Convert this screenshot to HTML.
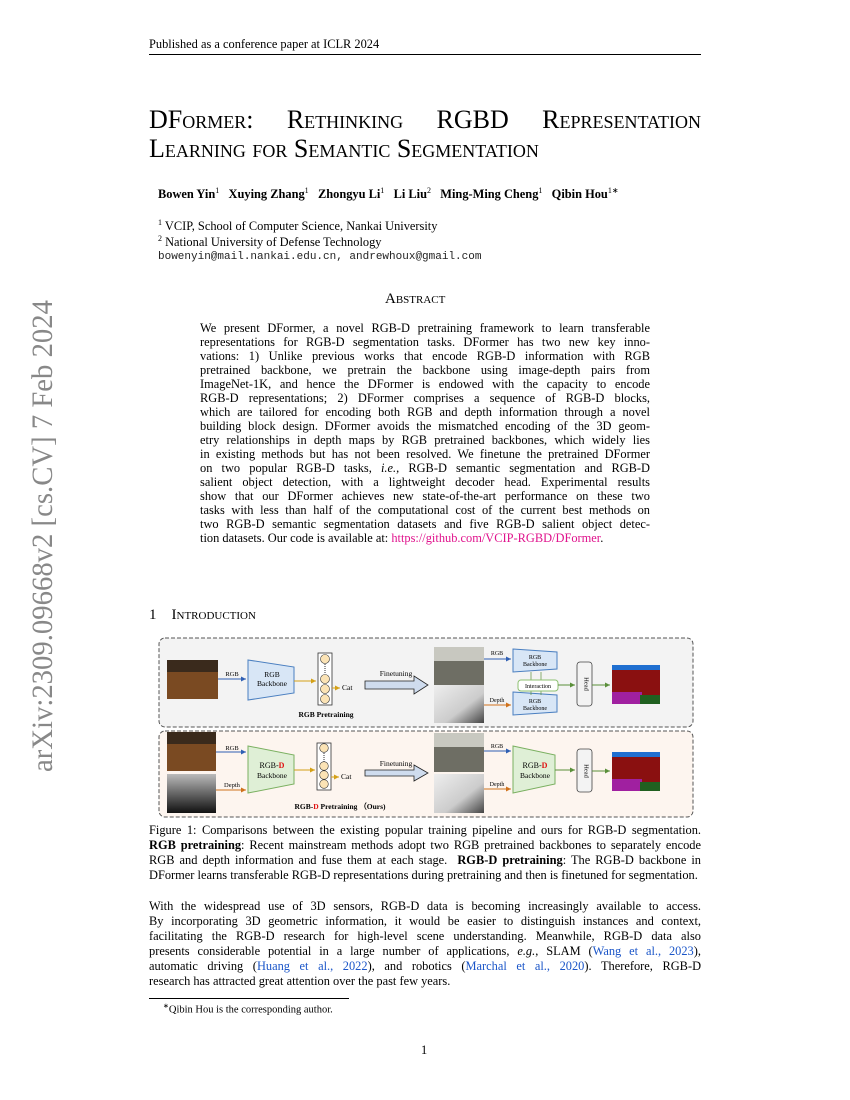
<!DOCTYPE html>
<html><head><meta charset="utf-8"><style>
body{margin:0;width:850px;height:1100px;position:relative;background:#fff;font-family:"Liberation Serif",serif;color:#000;overflow:hidden}
.a{position:absolute;white-space:nowrap}
.t{font-size:12.4px}
.j{position:absolute;left:200px;width:450px;font-size:12.4px;text-align:justify;text-align-last:justify;white-space:nowrap;line-height:14px}
.b{position:absolute;left:149px;width:552px;font-size:12.4px;text-align:justify;text-align-last:justify;white-space:nowrap}
.sc{font-variant:small-caps}
a{color:#e0138d;text-decoration:none}
.c{color:#1a55c8}
</style></head><body>
<div class="a t" style="left:149px;top:37px">Published as a conference paper at ICLR 2024</div>
<div class="a" style="left:149px;top:54px;width:552px;border-top:1px solid #000"></div>
<div class="a sc" style="left:149px;top:105px;font-size:26px;width:552px;text-align:justify;text-align-last:justify">DFormer: &nbsp;Rethinking &nbsp;RGBD &nbsp;Representation</div>
<div class="a sc" style="left:149px;top:134px;font-size:26px">Learning for Semantic Segmentation</div>
<div class="a" style="left:158px;top:186px;font-size:12.4px;font-weight:bold">Bowen Yin<sup style="font-weight:normal;font-size:8px">1</sup>&nbsp;&nbsp; Xuying Zhang<sup style="font-weight:normal;font-size:8px">1</sup>&nbsp;&nbsp; Zhongyu Li<sup style="font-weight:normal;font-size:8px">1</sup>&nbsp;&nbsp; Li Liu<sup style="font-weight:normal;font-size:8px">2</sup>&nbsp;&nbsp; Ming-Ming Cheng<sup style="font-weight:normal;font-size:8px">1</sup>&nbsp;&nbsp; Qibin Hou<sup style="font-weight:normal;font-size:8px">1∗</sup></div>
<div class="a t" style="left:158px;top:218px"><sup style="font-size:8px">1</sup> VCIP, School of Computer Science, Nankai University</div>
<div class="a t" style="left:158px;top:234px"><sup style="font-size:8px">2</sup> National University of Defense Technology</div>
<div class="a" style="left:158px;top:251px;font-family:'Liberation Mono',monospace;font-size:11px;color:#222">bowenyin@mail.nankai.edu.cn, andrewhoux@gmail.com</div>
<div class="a sc" style="left:385px;top:291px;font-size:15px">Abstract</div>
<div class="j" style="top:321px">We present DFormer, a novel RGB-D pretraining framework to learn transferable</div>
<div class="j" style="top:335px">representations for RGB-D segmentation tasks. DFormer has two new key inno-</div>
<div class="j" style="top:349px">vations: 1) Unlike previous works that encode RGB-D information with RGB</div>
<div class="j" style="top:363px">pretrained backbone, we pretrain the backbone using image-depth pairs from</div>
<div class="j" style="top:377px">ImageNet-1K, and hence the DFormer is endowed with the capacity to encode</div>
<div class="j" style="top:391px">RGB-D representations; 2) DFormer comprises a sequence of RGB-D blocks,</div>
<div class="j" style="top:405px">which are tailored for encoding both RGB and depth information through a novel</div>
<div class="j" style="top:419px">building block design. DFormer avoids the mismatched encoding of the 3D geom-</div>
<div class="j" style="top:433px">etry relationships in depth maps by RGB pretrained backbones, which widely lies</div>
<div class="j" style="top:447px">in existing methods but has not been resolved. We finetune the pretrained DFormer</div>
<div class="j" style="top:461px">on two popular RGB-D tasks, <i>i.e.,</i> RGB-D semantic segmentation and RGB-D</div>
<div class="j" style="top:475px">salient object detection, with a lightweight decoder head. Experimental results</div>
<div class="j" style="top:489px">show that our DFormer achieves new state-of-the-art performance on these two</div>
<div class="j" style="top:503px">tasks with less than half of the computational cost of the current best methods on</div>
<div class="j" style="top:517px">two RGB-D semantic segmentation datasets and five RGB-D salient object detec-</div>
<div class="j" style="top:531px;text-align-last:left">tion datasets. Our code is available at: <a>https://github.com/VCIP-RGBD/DFormer</a>.</div>
<div class="a" style="left:149px;top:607px;font-size:15px">1&nbsp;&nbsp;&nbsp; <span class="sc">Introduction</span></div>

<svg class="a" style="left:0;top:0" width="850" height="1100" font-family="Liberation Serif,serif">
<defs>
<marker id="mb" markerWidth="6" markerHeight="6" refX="5" refY="3" orient="auto"><path d="M0,0.5L5,3L0,5.5z" fill="#2f5fb3"/></marker>
<marker id="mo" markerWidth="6" markerHeight="6" refX="5" refY="3" orient="auto"><path d="M0,0.5L5,3L0,5.5z" fill="#d0721c"/></marker>
<marker id="my" markerWidth="6" markerHeight="6" refX="5" refY="3" orient="auto"><path d="M0,0.5L5,3L0,5.5z" fill="#d4a017"/></marker>
<marker id="mg" markerWidth="6" markerHeight="6" refX="5" refY="3" orient="auto"><path d="M0,0.5L5,3L0,5.5z" fill="#5a8f3a"/></marker>
<linearGradient id="dg" x1="0" y1="0" x2="0" y2="1"><stop offset="0" stop-color="#bbb"/><stop offset="1" stop-color="#111"/></linearGradient>
<linearGradient id="gw" x1="0" y1="0" x2="1" y2="1"><stop offset="0" stop-color="#eee"/><stop offset="0.6" stop-color="#ccc"/><stop offset="1" stop-color="#444"/></linearGradient>
</defs>
<rect x="159" y="638" width="534" height="89" rx="6" fill="#f3f3f3" stroke="#555" stroke-dasharray="4,2"/>
<rect x="159" y="731" width="534" height="86" rx="6" fill="#fdf5ef" stroke="#555" stroke-dasharray="4,2"/>
<rect x="167" y="660" width="51" height="39" fill="#7a4a22"/><rect x="167" y="660" width="51" height="12" fill="#3a2a1c"/>
<line x1="218" y1="679" x2="246" y2="679" stroke="#2f5fb3" marker-end="url(#mb)"/>
<text x="232" y="676" font-size="6.5" text-anchor="middle">RGB</text>
<path d="M248,660 L294,667 L294,693 L248,700z" fill="#d8e6f6" stroke="#4a7fc0"/>
<text x="272" y="677" font-size="7.5" text-anchor="middle">RGB</text><text x="272" y="686" font-size="7.5" text-anchor="middle">Backbone</text>
<line x1="294" y1="681" x2="316" y2="681" stroke="#d4a017" marker-end="url(#my)"/>
<rect x="318" y="653" width="14" height="52" fill="#fff" stroke="#333" stroke-width="0.8"/>
<circle cx="325" cy="659" r="4.5" fill="#fbe3b5" stroke="#333" stroke-width="0.6"/><line x1="325" y1="664" x2="325" y2="674" stroke="#333" stroke-dasharray="1,1"/>
<circle cx="325" cy="679" r="4.5" fill="#fbe3b5" stroke="#333" stroke-width="0.6"/><circle cx="325" cy="689" r="4.5" fill="#fbe3b5" stroke="#333" stroke-width="0.6"/><circle cx="325" cy="699" r="4.5" fill="#fbe3b5" stroke="#333" stroke-width="0.6"/>
<line x1="332" y1="688" x2="340" y2="688" stroke="#d4a017" marker-end="url(#my)"/>
<text x="342" y="690" font-size="7.5">Cat</text>
<text x="326" y="717" font-size="7.5" font-weight="bold" text-anchor="middle">RGB Pretraining</text>
<text x="396" y="676" font-size="7.5" text-anchor="middle">Finetuning</text>
<path d="M365,681 L414,681 L414,676 L428,685 L414,694 L414,689 L365,689z" fill="#cfdcee" stroke="#222" stroke-width="0.8"/>
<rect x="434" y="647" width="50" height="38" fill="#6e6e64"/><rect x="434" y="647" width="50" height="14" fill="#c8c8c0"/>
<rect x="434" y="685" width="50" height="38" fill="url(#gw)"/>
<line x1="484" y1="659" x2="511" y2="659" stroke="#2f5fb3" marker-end="url(#mb)"/><text x="497" y="655" font-size="6" text-anchor="middle">RGB</text>
<line x1="484" y1="705" x2="511" y2="705" stroke="#d0721c" marker-end="url(#mo)"/><text x="497" y="702" font-size="6" text-anchor="middle">Depth</text>
<path d="M513,649 L557,652 L557,669 L513,672z" fill="#d8e6f6" stroke="#4a7fc0"/>
<text x="535" y="659" font-size="6" text-anchor="middle">RGB</text><text x="535" y="666" font-size="6" text-anchor="middle">Backbone</text>
<path d="M513,692 L557,695 L557,712 L513,715z" fill="#d8e6f6" stroke="#4a7fc0"/>
<text x="535" y="703" font-size="6" text-anchor="middle">RGB</text><text x="535" y="710" font-size="6" text-anchor="middle">Backbone</text>
<line x1="531" y1="680" x2="531" y2="672" stroke="#5a8f3a" stroke-width="0.7"/><line x1="541" y1="680" x2="541" y2="672" stroke="#5a8f3a" stroke-width="0.7"/>
<line x1="531" y1="691" x2="531" y2="695" stroke="#5a8f3a" stroke-width="0.7"/><line x1="541" y1="691" x2="541" y2="695" stroke="#5a8f3a" stroke-width="0.7"/>
<rect x="518" y="680" width="40" height="11" rx="3" fill="#fff" stroke="#8cc070"/><text x="538" y="688" font-size="6" text-anchor="middle">Interaction</text>
<line x1="558" y1="685" x2="575" y2="685" stroke="#5a8f3a" marker-end="url(#mg)"/>
<rect x="577" y="662" width="15" height="44" rx="3" fill="#f3f3f3" stroke="#444" stroke-width="0.8"/>
<text x="584.5" y="684" font-size="6.5" text-anchor="middle" transform="rotate(90 584.5 684)">Head</text>
<line x1="592" y1="685" x2="610" y2="685" stroke="#5a8f3a" marker-end="url(#mg)"/>
<rect x="612" y="665" width="48" height="39" fill="#8a1010"/><rect x="612" y="665" width="48" height="5" fill="#1f6fd0"/><rect x="612" y="692" width="30" height="12" fill="#a020a0"/><rect x="640" y="695" width="20" height="9" fill="#206020"/>
<rect x="167" y="732" width="49" height="39" fill="#7a4a22"/><rect x="167" y="732" width="49" height="12" fill="#3a2a1c"/>
<rect x="167" y="774" width="49" height="39" fill="url(#dg)"/>
<line x1="216" y1="752" x2="246" y2="752" stroke="#2f5fb3" marker-end="url(#mb)"/><text x="232" y="750" font-size="6.5" text-anchor="middle">RGB</text>
<line x1="216" y1="790" x2="246" y2="790" stroke="#d0721c" marker-end="url(#mo)"/><text x="232" y="787" font-size="6.5" text-anchor="middle">Depth</text>
<path d="M248,746 L294,755 L294,784 L248,793z" fill="#dfefd6" stroke="#7ab060"/>
<text x="272" y="768" font-size="8" text-anchor="middle">RGB-<tspan fill="#e01010" font-weight="bold">D</tspan></text><text x="272" y="778" font-size="7.5" text-anchor="middle">Backbone</text>
<line x1="294" y1="770" x2="315" y2="770" stroke="#d4a017" marker-end="url(#my)"/>
<rect x="317" y="743" width="14" height="47" fill="#fff" stroke="#333" stroke-width="0.8"/>
<circle cx="324" cy="748" r="4.3" fill="#fbe3b5" stroke="#333" stroke-width="0.6"/><line x1="324" y1="753" x2="324" y2="762" stroke="#333" stroke-dasharray="1,1"/>
<circle cx="324" cy="766" r="4.3" fill="#fbe3b5" stroke="#333" stroke-width="0.6"/><circle cx="324" cy="775" r="4.3" fill="#fbe3b5" stroke="#333" stroke-width="0.6"/><circle cx="324" cy="784" r="4.3" fill="#fbe3b5" stroke="#333" stroke-width="0.6"/>
<line x1="331" y1="777" x2="339" y2="777" stroke="#d4a017" marker-end="url(#my)"/>
<text x="341" y="779" font-size="7.5">Cat</text>
<text x="340" y="809" font-size="7.5" font-weight="bold" text-anchor="middle">RGB-<tspan fill="#e01010">D</tspan> Pretraining （Ours)</text>
<text x="396" y="766" font-size="7.5" text-anchor="middle">Finetuning</text>
<path d="M365,770 L414,770 L414,765 L428,773 L414,781 L414,776 L365,776z" fill="#cfdcee" stroke="#222" stroke-width="0.8"/>
<rect x="434" y="733" width="50" height="39" fill="#6e6e64"/><rect x="434" y="733" width="50" height="14" fill="#c8c8c0"/>
<rect x="434" y="774" width="50" height="39" fill="url(#gw)"/>
<line x1="484" y1="751" x2="511" y2="751" stroke="#2f5fb3" marker-end="url(#mb)"/><text x="497" y="748" font-size="6" text-anchor="middle">RGB</text>
<line x1="484" y1="789" x2="511" y2="789" stroke="#d0721c" marker-end="url(#mo)"/><text x="497" y="786" font-size="6" text-anchor="middle">Depth</text>
<path d="M513,746 L555,755 L555,784 L513,793z" fill="#dfefd6" stroke="#7ab060"/>
<text x="535" y="768" font-size="8" text-anchor="middle">RGB-<tspan fill="#e01010" font-weight="bold">D</tspan></text><text x="535" y="778" font-size="7.5" text-anchor="middle">Backbone</text>
<line x1="555" y1="770" x2="575" y2="770" stroke="#5a8f3a" marker-end="url(#mg)"/>
<rect x="577" y="749" width="15" height="43" rx="3" fill="#f3f3f3" stroke="#444" stroke-width="0.8"/>
<text x="584.5" y="771" font-size="6.5" text-anchor="middle" transform="rotate(90 584.5 771)">Head</text>
<line x1="592" y1="771" x2="610" y2="771" stroke="#5a8f3a" marker-end="url(#mg)"/>
<rect x="612" y="752" width="48" height="39" fill="#8a1010"/><rect x="612" y="752" width="48" height="5" fill="#1f6fd0"/><rect x="612" y="779" width="30" height="12" fill="#a020a0"/><rect x="640" y="782" width="20" height="9" fill="#206020"/>
<text transform="translate(52,772) rotate(-90)" font-size="30" fill="#888" textLength="472" lengthAdjust="spacingAndGlyphs">arXiv:2309.09668v2  [cs.CV]  7 Feb 2024</text>
</svg>

<div class="b" style="top:823px">Figure 1: Comparisons between the existing popular training pipeline and ours for RGB-D segmentation.</div>
<div class="b" style="top:838px"><b>RGB pretraining</b>: Recent mainstream methods adopt two RGB pretrained backbones to separately encode</div>
<div class="b" style="top:853px">RGB and depth information and fuse them at each stage. &nbsp;<b>RGB-D pretraining</b>: The RGB-D backbone in</div>
<div class="b" style="top:868px;text-align-last:left">DFormer learns transferable RGB-D representations during pretraining and then is finetuned for segmentation.</div>
<div class="b" style="top:899px">With the widespread use of 3D sensors, RGB-D data is becoming increasingly available to access.</div>
<div class="b" style="top:914px">By incorporating 3D geometric information, it would be easier to distinguish instances and context,</div>
<div class="b" style="top:929px">facilitating the RGB-D research for high-level scene understanding. Meanwhile, RGB-D data also</div>
<div class="b" style="top:944px">presents considerable potential in a large number of applications, <i>e.g.</i>, SLAM (<span class="c">Wang et al., 2023</span>),</div>
<div class="b" style="top:959px">automatic driving (<span class="c">Huang et al., 2022</span>), and robotics (<span class="c">Marchal et al., 2020</span>). Therefore, RGB-D</div>
<div class="b" style="top:974px;text-align-last:left">research has attracted great attention over the past few years.</div>
<div class="a" style="left:149px;top:998px;width:200px;border-top:0.8px solid #000"></div>
<div class="a" style="left:163px;top:1002px;font-size:10.5px"><sup style="font-size:7px">∗</sup>Qibin Hou is the corresponding author.</div>
<div class="a t" style="left:421px;top:1043px">1</div>
</body></html>
